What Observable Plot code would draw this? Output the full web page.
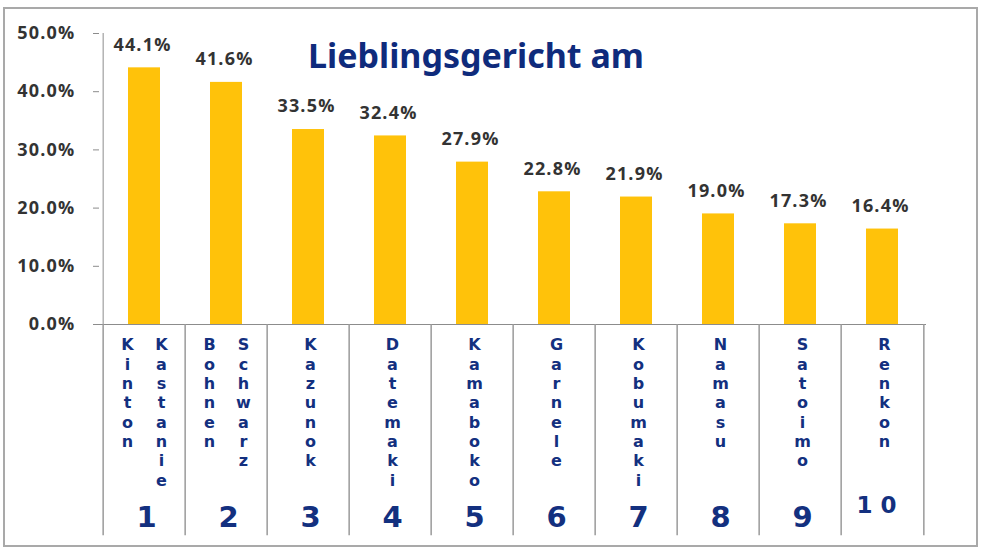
<!DOCTYPE html>
<html>
<head>
<meta charset="utf-8">
<script src="https://cdn.jsdelivr.net/npm/d3@7"></script>
<script src="https://cdn.jsdelivr.net/npm/@observablehq/plot@0.6"></script>
<style>
  html, body { margin: 0; padding: 0; background: #fff; }
  #wrap { position: relative; width: 983px; height: 551px; overflow: hidden; }
  #border { position: absolute; left: 3px; top: 7px; width: 975px; height: 540px; box-sizing: border-box; border: 2px solid #a9a9a9; }
  #chart { position: absolute; left: 0; top: 0; }
</style>
</head>
<body>
<div id="wrap"><div id="border"></div><div id="chart"></div></div>
<script>
const title = "Lieblingsgericht am";
const labelA = ["Kinton", "Bohnen", "Kazunok", "Datemaki", "Kamaboko", "Garnele", "Kobumaki", "Namasu", "Satoimo", "Renkon"];
const labelB = ["Kastanie", "Schwarz", "", "", "", "", "", "", "", ""];
const ranks = ["1", "2", "3", "4", "5", "6", "7", "8", "9", "1 0"];
const values = [44.1, 41.6, 33.5, 32.4, 27.9, 22.8, 21.9, 19.0, 17.3, 16.4];
const yTicks = [0, 10, 20, 30, 40, 50];

const data = labelA.map((a, i) => ({cat: a, a, b: labelB[i], rank: ranks[i], value: values[i]}));

const W = 983, H = 551, ML = 99, MR = 57, MT = 33, MB = 227;
const step = (W - ML - MR) / labelA.length;
const navy = "#13307f";
const gray = "#8c8c8c";
const labelFont = "'DejaVu Sans', sans-serif";
const titleFont = "'Noto Sans', 'DejaVu Sans', sans-serif";
const numFont = "'Open Sans', 'Liberation Sans', sans-serif";
const vertical = s => s.split("").join("\n");
const letterStyle = {frameAnchor: "bottom", lineAnchor: "top", dy: 12, lineHeight: 1.21,
  fontSize: 16, fontWeight: "bold", fill: navy, fontFamily: labelFont};

const chart = Plot.plot({
  width: W, height: H,
  marginLeft: ML, marginRight: MR, marginTop: MT, marginBottom: MB,
  style: {background: "transparent", overflow: "visible", fontFamily: numFont},
  x: {domain: labelA, padding: 0, axis: null},
  y: {domain: [0, 50], axis: null},
  marks: [
    Plot.barY(data, {x: "cat", y: "value", fill: "#FFC20A", insetLeft: 25, insetRight: 25}),
    Plot.text(data, {x: "cat", y: "value", text: d => d.value.toFixed(1) + "%", dy: -23, dx: -2,
      fontSize: 18, fontWeight: "bold", fill: "#333", fontFamily: numFont}),
    Plot.axisY({ticks: yTicks, tickFormat: d => d.toFixed(1) + "%", tickSize: 6, tickPadding: 18, label: null,
      fontSize: 18, fontWeight: "bold", fill: "#333", stroke: gray, fontFamily: numFont}),
    Plot.ruleX([labelA[0]], {x: d => d, dx: -step / 2, y1: 0, y2: 50, stroke: gray}),
    Plot.ruleY([0], {stroke: gray}),
    Plot.ruleX(data, {x: "cat", dx: -step / 2, y1: 0, y2: -36.3, stroke: "#9a9a9a", strokeWidth: 1.5}),
    Plot.ruleX([labelA[labelA.length - 1]], {x: d => d, dx: step / 2, y1: 0, y2: -36.3, stroke: "#9a9a9a", strokeWidth: 1.5}),
    Plot.text(data.filter(d => d.b), {x: "cat", text: d => vertical(d.a), dx: -17, ...letterStyle}),
    Plot.text(data.filter(d => d.b), {x: "cat", text: d => vertical(d.b), dx: 17, ...letterStyle}),
    Plot.text(data.filter(d => !d.b), {x: "cat", text: d => vertical(d.a), dx: 2, ...letterStyle}),
    Plot.text(data.filter(d => d.rank.length === 1), {x: "cat", text: "rank", frameAnchor: "bottom", lineAnchor: "middle",
      dy: 193, dx: 2, fontSize: 29, fontWeight: "bold", fill: navy, fontFamily: labelFont}),
    Plot.text(data.filter(d => d.rank.length > 1), {x: "cat", text: "rank", frameAnchor: "bottom", lineAnchor: "middle",
      dy: 181, dx: -6, fontSize: 23, fontWeight: "bold", fill: navy, fontFamily: labelFont}),
    Plot.text([title], {frameAnchor: "top", lineAnchor: "middle", dx: -37, dy: 24,
      fontSize: 34, fontWeight: "bold", fill: "#0f2b7c", fontFamily: titleFont})
  ]
});
d3.select(chart).selectAll("text").filter(function() { return /%$/.test(this.textContent); })
  .style("letter-spacing", "1.2px");
document.getElementById("chart").appendChild(chart);
</script>
</body>
</html>
